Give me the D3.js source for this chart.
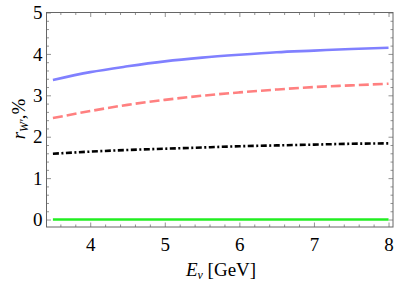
<!DOCTYPE html>
<html>
<head>
<meta charset="utf-8">
<script src="https://cdn.jsdelivr.net/npm/d3@7"></script>
<style>
  body { margin: 0; background: #fff; }
</style>
</head>
<body>
<figure id="chart" style="margin:0"></figure>
<script>
// energies (GeV) where curves were read
const energies = [3.5, 4, 4.5, 5, 5.5, 6, 6.5, 7, 7.5, 8];
// r_W' in % for each curve
const blueVals  = [3.37, 3.56, 3.70, 3.82, 3.91, 3.98, 4.04, 4.08, 4.12, 4.15];
const redVals   = [2.45, 2.62, 2.77, 2.89, 2.99, 3.07, 3.14, 3.20, 3.24, 3.28];
const blackVals = [1.59, 1.64, 1.68, 1.71, 1.74, 1.77, 1.79, 1.81, 1.83, 1.84];
const greenVals = [0, 0, 0, 0, 0, 0, 0, 0, 0, 0];
const xTicks = [4, 5, 6, 7, 8];
const yTicks = [0, 1, 2, 3, 4, 5];

const W = 395, H = 283;
const mLeft = 46.5, mRight = 393, mTop = 12.5, mBottom = 227;
const serif = "Liberation Serif";

const svg = d3.select("#chart").append("svg")
  .attr("width", W).attr("height", H);

const x = d3.scaleLinear().domain([3.414, 8.06]).range([mLeft, mRight]);
const y = d3.scaleLinear().domain([-0.18, 5]).range([mBottom, mTop]);

// minor ticks every 0.2
const xMinor = d3.range(3.6, 8.01, 0.2).filter(v => Math.abs(v - Math.round(v)) > 1e-6);
const yMinor = d3.range(0, 5.0, 0.2).filter(v => Math.abs(v - Math.round(v)) > 1e-6);

function frameAxis(axisFn, scale, ticks, minor, tr, withLabels, pad) {
  const g = svg.append("g").attr("transform", tr);
  g.call(axisFn(scale).tickValues(minor).tickSize(-2.5).tickFormat(""));
  g.selectAll(".domain").remove();
  const g2 = svg.append("g").attr("transform", tr);
  g2.call(axisFn(scale).tickValues(ticks).tickSize(-4.5).tickPadding(pad)
    .tickFormat(withLabels ? d3.format("d") : ""));
  g2.selectAll(".domain").remove();
  svg.selectAll("g line").attr("stroke", "#777").attr("stroke-width", 0.8);
  g2.attr("font-family", serif).attr("font-size", 19);
  g2.selectAll("text")
    .attr("font-family", serif).attr("font-size", 19).attr("fill", "#000");
  return g2;
}

frameAxis(d3.axisBottom, x, xTicks, xMinor, `translate(0,${mBottom})`, true, 11);
frameAxis(d3.axisTop, x, xTicks, xMinor, `translate(0,${mTop})`, false, 3);
frameAxis(d3.axisLeft, y, yTicks, yMinor, `translate(${mLeft},0)`, true, 4);
frameAxis(d3.axisRight, y, yTicks, yMinor, `translate(${mRight},0)`, false, 3);

svg.append("rect")
  .attr("x", mLeft).attr("y", mTop)
  .attr("width", mRight - mLeft).attr("height", mBottom - mTop)
  .attr("fill", "none").attr("stroke", "#666").attr("stroke-width", 1);

const line = d3.line().x((d, i) => x(energies[i])).y(d => y(d)).curve(d3.curveMonotoneX);

const series = [
  { vals: greenVals, color: "#22ee22", dash: null },
  { vals: blackVals, color: "#000000", dash: "6,2.5,2,2.5" },
  { vals: redVals, color: "#ff8080", dash: "10,4" },
  { vals: blueVals, color: "#8080ff", dash: null }
];

svg.selectAll("path.curve")
  .data(series)
  .enter()
  .append("path")
  .attr("class", "curve")
  .attr("d", d => line(d.vals))
  .attr("fill", "none")
  .attr("stroke", d => d.color)
  .attr("stroke-width", 2.6)
  .attr("stroke-dasharray", d => d.dash);

// axis labels
svg.append("text")
  .attr("x", 221).attr("y", 276)
  .attr("font-family", serif)
  .attr("text-anchor", "middle").attr("font-size", 19)
  .html('<tspan font-style="italic">E</tspan><tspan font-style="italic" font-size="12" dy="3">ν</tspan><tspan dy="-3"> [GeV]</tspan>');

svg.append("text")
  .attr("transform", "translate(25,119) rotate(-90)")
  .attr("font-family", serif)
  .attr("text-anchor", "middle").attr("font-size", 19)
  .html('<tspan font-style="italic">r</tspan><tspan font-style="italic" font-size="12" dy="3">W′</tspan><tspan dy="-3">,%</tspan>');
</script>
</body>
</html>
